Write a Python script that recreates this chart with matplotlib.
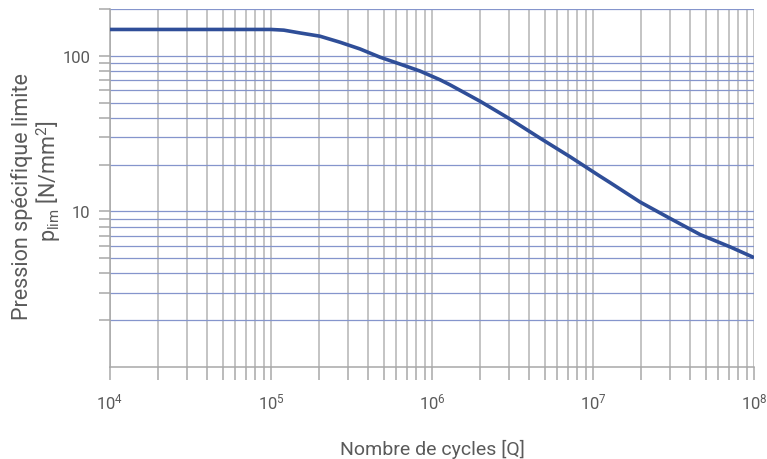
import matplotlib
matplotlib.use("Agg")
import matplotlib.pyplot as plt
from matplotlib.ticker import LogLocator, NullFormatter, FixedLocator, FixedFormatter

plt.rcParams['font.family'] = ['Roboto', 'DejaVu Sans']
plt.rcParams['mathtext.fontset'] = 'custom'
plt.rcParams['mathtext.rm'] = 'Roboto'
plt.rcParams['mathtext.it'] = 'Roboto'
plt.rcParams['mathtext.default'] = 'regular'

cycles = [1e4, 1e5, 1.2e5, 1.51e5, 2.01e5, 2.69e5, 3.57e5, 4.75e5, 6.32e5, 8.41e5,
          1.12e6, 1.29e6, 1.99e6, 3.05e6, 4.69e6, 7.19e6, 1.10e7, 1.28e7,
          1.96e7, 3.01e7, 4.62e7, 7.10e7, 1e8]
pressure = [148, 148, 146.5, 140.6, 134, 122.4, 110.9, 98.2, 88.7, 80.0,
            70.3, 65.3, 51.1, 39.3, 29.6, 22.5, 16.9, 15.3,
            11.5, 9.02, 7.11, 5.92, 5.05]

xmajor = [1e4, 1e5, 1e6, 1e7, 1e8]
xmajor_labels = ['$10^4$', '$10^5$', '$10^6$', '$10^7$', '$10^8$']
ymajor = [10, 100]
ymajor_labels = ['10', '100']

txt = '#5a5a5a'
fig = plt.figure(figsize=(7.67, 4.6), dpi=100)
ax = fig.add_axes([0.1434, 0.2, 0.8397, 0.778])
ax.set_xscale('log')
ax.set_yscale('log')
ax.set_xlim(1e4, 1e8)
ax.set_ylim(1, 200)

ax.xaxis.set_major_locator(FixedLocator(xmajor))
ax.xaxis.set_major_formatter(FixedFormatter(xmajor_labels))
ax.xaxis.set_minor_locator(LogLocator(base=10, subs=range(2, 10), numticks=50))
ax.xaxis.set_minor_formatter(NullFormatter())
ax.yaxis.set_major_locator(FixedLocator(ymajor))
ax.yaxis.set_major_formatter(FixedFormatter(ymajor_labels))
ax.yaxis.set_minor_locator(LogLocator(base=10, subs=range(2, 10), numticks=50))
ax.yaxis.set_minor_formatter(NullFormatter())

ax.grid(True, axis='x', which='both', color='#b4b4b4', linewidth=1.1)
ax.grid(True, axis='y', which='both', color='#8595cc', linewidth=0.9)
ax.set_axisbelow(True)

for s in ['top', 'right']:
    ax.spines[s].set_visible(False)
for s in ['left', 'bottom']:
    ax.spines[s].set_color('#a8a8a8')
    ax.spines[s].set_linewidth(1.1)

ax.tick_params(axis='x', which='both', direction='out', length=9.5, width=1.1,
               color='#a8a8a8', labelsize=12, labelcolor=txt, pad=8)
ax.tick_params(axis='y', which='both', direction='out', length=8, width=1.1,
               color='#a8a8a8', labelsize=12, labelcolor=txt, pad=6)

ax.plot(cycles, pressure, color='#2f4e98', linewidth=2.6, solid_capstyle='butt',
        solid_joinstyle='round', zorder=3)

ax.set_xlabel('Nombre de cycles [Q]', fontsize=14, color=txt, labelpad=20)

fig.text(22 / 767, 1 - 197 / 460, 'Pression spécifique limite', rotation=90,
         fontsize=15.5, color=txt, ha='center', va='center')
fig.text(49 / 767, 1 - 181 / 460, 'p$_{lim}$ [N/mm$^2$]', rotation=90,
         fontsize=15.5, color=txt, ha='center', va='center')

fig.savefig('out.png', dpi=100)
